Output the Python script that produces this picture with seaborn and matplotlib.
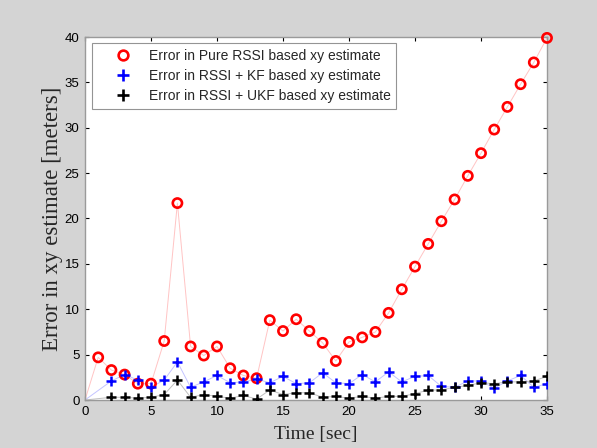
import numpy as np
import pandas as pd
import matplotlib
matplotlib.use("Agg")
import matplotlib.pyplot as plt
import seaborn as sns
from matplotlib.lines import Line2D

# ---- data ----
t_pure = list(range(1, 36))
err_pure = [4.7, 3.3, 2.8, 1.8, 1.8, 6.5, 21.7, 5.9, 4.9, 5.9, 3.5, 2.7, 2.4,
            8.8, 7.6, 8.9, 7.6, 6.3, 4.3, 6.4, 6.9, 7.5, 9.6, 12.2, 14.7, 17.2,
            19.7, 22.1, 24.7, 27.2, 29.8, 32.3, 34.8, 37.2, 39.9]
t_filt = list(range(2, 36))
err_kf = [2.1, 2.8, 2.2, 1.4, 2.2, 4.2, 1.4, 2.0, 2.7, 1.9, 2.0, 2.3, 1.9, 2.6,
          1.8, 1.9, 3.0, 1.9, 1.8, 2.8, 2.0, 3.1, 2.0, 2.6, 2.7, 1.5, 1.4, 2.1,
          2.1, 1.3, 2.1, 2.7, 1.4, 1.8]
err_ukf = [0.3, 0.3, 0.2, 0.3, 0.6, 2.2, 0.3, 0.6, 0.4, 0.2, 0.5, 0.1, 1.1, 0.6,
           0.8, 0.8, 0.3, 0.4, 0.2, 0.4, 0.2, 0.4, 0.4, 0.7, 1.1, 1.1, 1.4, 1.6,
           1.9, 1.8, 2.0, 2.0, 2.1, 2.6]
labels = ["Error in Pure RSSI based xy estimate",
          "Error in RSSI + KF based xy estimate",
          "Error in RSSI + UKF based xy estimate"]
xticks = [0, 5, 10, 15, 20, 25, 30, 35]
yticks = [0, 5, 10, 15, 20, 25, 30, 35, 40]

sns.set_style("ticks")
plt.rcParams['font.family'] = ['Liberation Sans', 'DejaVu Sans']

fig = plt.figure(figsize=(5.97, 4.48), dpi=100, facecolor="#d4d4d4")
ax = fig.add_axes([85/597, 48/448, 462/597, 363/448])
ax.set_facecolor("white")

df_pure = pd.DataFrame({"t": t_pure, "v": err_pure})
df_kf = pd.DataFrame({"t": t_filt, "v": err_kf})
df_ukf = pd.DataFrame({"t": t_filt, "v": err_ukf})

# thin connecting lines starting from origin
for df, col in [(df_pure, "#ffc4c4"), (df_kf, "#c4c4ff"), (df_ukf, "#c0c0c0")]:
    dline = pd.concat([pd.DataFrame({"t": [0], "v": [0.0]}), df], ignore_index=True)
    sns.lineplot(data=dline, x="t", y="v", ax=ax, color=col, linewidth=0.7,
                 sort=False, estimator=None, legend=False)

sns.scatterplot(data=df_pure, x="t", y="v", ax=ax, marker="o", s=44,
                facecolors="none", edgecolor="#ff0000", linewidth=1.9,
                legend=False, zorder=5, clip_on=False)
sns.scatterplot(data=df_kf, x="t", y="v", ax=ax, marker="+", s=56,
                color="#0000ff", linewidth=1.8, legend=False, zorder=5)
sns.scatterplot(data=df_ukf, x="t", y="v", ax=ax, marker="+", s=56,
                color="#000000", linewidth=1.8, legend=False, zorder=6)

ax.set_xlim(0, 35)
ax.set_ylim(0, 40)
ax.set_xticks(xticks)
ax.set_yticks(yticks)
ax.tick_params(direction="in", length=3, width=0.8, top=True, right=True,
               labelsize=9.5, pad=4, colors="black")
for s in ax.spines.values():
    s.set_visible(True)
    s.set_color("#9a9a9a")
    s.set_linewidth(1.0)

ax.set_xlabel("Time [sec]", family=["Liberation Serif"], fontsize=14, labelpad=6)
ax.set_ylabel("Error in xy estimate [meters]", family=["Liberation Serif"],
              fontsize=16.5, labelpad=1)

handles = [
    Line2D([], [], linestyle="none", marker="o", markersize=7, markerfacecolor="none",
           markeredgecolor="#ff0000", markeredgewidth=1.9),
    Line2D([], [], linestyle="none", marker="+", markersize=8, color="#0000ff",
           markeredgewidth=1.9),
    Line2D([], [], linestyle="none", marker="+", markersize=8, color="#000000",
           markeredgewidth=1.9),
]
leg = ax.legend(handles, labels, loc="upper left", bbox_to_anchor=(7/462, 1 - 6/363),
                borderaxespad=0, fontsize=10, frameon=True, fancybox=False,
                handlelength=3.6, handletextpad=0.1, labelspacing=0.45,
                borderpad=0.4)
leg.get_frame().set_edgecolor("#7a7a7a")
leg.get_frame().set_linewidth(0.8)

fig.savefig("out.png", dpi=100, facecolor=fig.get_facecolor())
